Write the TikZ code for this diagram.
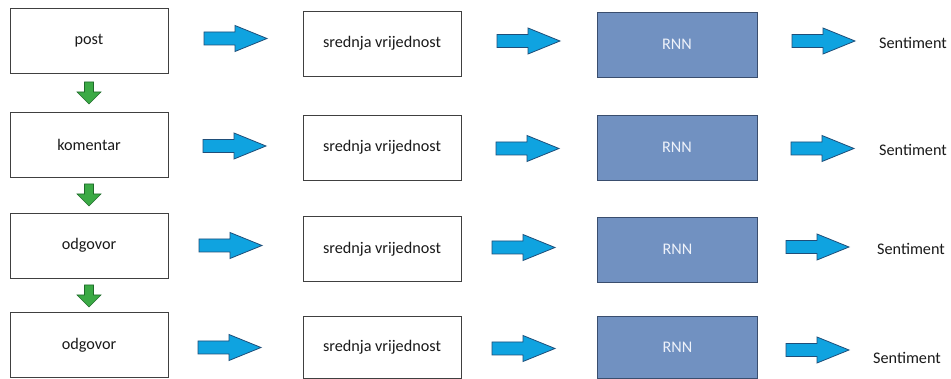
\documentclass[tikz,border=0pt]{standalone}
\usepackage{fontspec}
\setmainfont{Carlito}
\definecolor{boxline}{HTML}{404040}
\definecolor{rnnfill}{HTML}{7191C1}
\definecolor{rnnline}{HTML}{3A4E6E}
\definecolor{rnntext}{HTML}{EEF2FA}
\definecolor{bluefill}{HTML}{0FA3E0}
\definecolor{blueline}{HTML}{1F4E79}
\definecolor{greenfill}{HTML}{3BAA45}
\definecolor{greenline}{HTML}{1E6B2A}
\definecolor{txt}{HTML}{1A1A1A}
\tikzset{
  base/.style={font=\fontsize{16.2}{19}\selectfont, text=txt},
  whitebox/.style={base, draw=boxline, fill=white, line width=0.9pt, minimum width=158pt, minimum height=65pt, inner sep=0pt},
  rnnbox/.style={base, draw=rnnline, fill=rnnfill, line width=0.9pt, minimum width=160pt, minimum height=65pt, inner sep=0pt, text=rnntext},
  outtext/.style={base, inner sep=0pt},
  bluearrow/.pic={\draw[fill=bluefill, draw=blueline, line width=0.8pt]
     (0,-6.5) -- (31,-6.5) -- (31,-13) -- (63,0) -- (31,13) -- (31,6.5) -- (0,6.5) -- cycle;},
  greenarrow/.pic={\draw[fill=greenfill, draw=greenline, line width=0.6pt]
     (-4.5,0) -- (4.5,0) -- (4.5,10) -- (12,10) -- (0,22) -- (-12,10) -- (-4.5,10) -- cycle;}
}
\begin{document}
\begin{tikzpicture}[x=1pt,y=-1pt]
\useasboundingbox[fill=white] (0,0) rectangle (951,379);
% left column
\node[whitebox] (l1) at (89,40.5) {post};
\node[whitebox] (l2) at (89,144.5) {komentar};
\node[whitebox] (l3) at (89,245.5) {odgovor};
\node[whitebox] (l4) at (89,345) {odgovor};
% middle column
\node[whitebox] (m1) at (382,43.5) {srednja vrijednost};
\node[whitebox] (m2) at (382,147.5) {srednja vrijednost};
\node[whitebox] (m3) at (382,249) {srednja vrijednost};
\node[whitebox, minimum height=62pt] (m4) at (382,347.5) {srednja vrijednost};
% RNN column
\node[rnnbox] (r1) at (677,44.5) {RNN};
\node[rnnbox] (r2) at (677,147.5) {RNN};
\node[rnnbox] (r3) at (677.5,249.5) {RNN};
\node[rnnbox, minimum height=62pt] (r4) at (677.5,347.5) {RNN};
% outputs
\node[outtext] (s1) at (913,43) {Sentiment};
\node[outtext] (s2) at (913,149.5) {Sentiment};
\node[outtext] (s3) at (911,249) {Sentiment};
\node[outtext] (s4) at (907,357.5) {Sentiment};
% blue arrows
\pic at (204,38.5) {bluearrow};
\pic at (497,41) {bluearrow};
\pic at (792,41) {bluearrow};
\pic at (203,146) {bluearrow};
\pic at (496,148.5) {bluearrow};
\pic at (791,148.5) {bluearrow};
\pic at (199,245.5) {bluearrow};
\pic at (492,247.5) {bluearrow};
\pic at (786,247) {bluearrow};
\pic at (198,347.5) {bluearrow};
\pic at (492,348.5) {bluearrow};
\pic at (786,350) {bluearrow};
% green arrows
\pic at (89,82) {greenarrow};
\pic at (89,184) {greenarrow};
\pic at (89,285) {greenarrow};
\end{tikzpicture}
\end{document}
